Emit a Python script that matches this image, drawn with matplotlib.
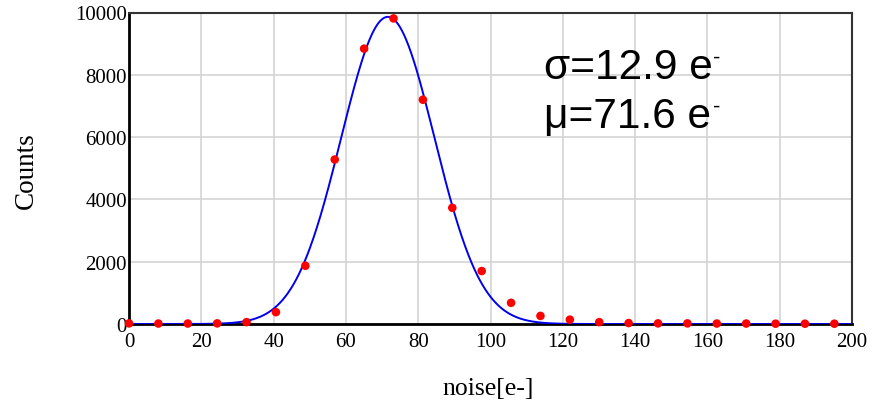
import numpy as np
import matplotlib
matplotlib.use("Agg")
import matplotlib.pyplot as plt

# Data
bin_width = 8.13
n_bins = 25
counts = [20, 15, 15, 20, 60, 380, 1870, 5280, 8840, 9810, 7200, 3730,
          1700, 680, 260, 140, 60, 30, 20, 20, 15, 15, 10, 10, 10]
noise = [i * bin_width for i in range(n_bins)]

# Gaussian fit parameters (as labelled)
fit_sigma = 12.9
fit_mu = 71.6
fit_amp = 9860

x_ticks = [0, 20, 40, 60, 80, 100, 120, 140, 160, 180, 200]
y_ticks = [0, 2000, 4000, 6000, 8000, 10000]

fig = plt.figure(figsize=(8.84, 4.06), dpi=100)
ax = fig.add_axes([129 / 884, (406 - 325) / 406, (852 - 129) / 884, (325 - 13.5) / 406])

xf = np.linspace(0, 200, 801)
yf = fit_amp * np.exp(-(xf - fit_mu) ** 2 / (2 * fit_sigma ** 2))
ax.plot(xf, yf, color="#0000ee", lw=1.4, zorder=3)
ax.scatter(noise, counts, s=38, color="#ff0000", edgecolors="none", zorder=4, clip_on=False)

ax.set_xlim(0, 200)
ax.set_ylim(0, 10000)
ax.set_xticks(x_ticks)
ax.set_yticks(y_ticks)
ax.grid(True, color="#d4d4d4", lw=1.2)
ax.set_axisbelow(True)
ax.tick_params(length=0, labelsize=15)
ax.tick_params(axis="x", pad=6)
ax.tick_params(axis="y", pad=1.5)
for lab in ax.get_xticklabels() + ax.get_yticklabels():
    lab.set_fontfamily("Liberation Serif")

ax.spines["left"].set_linewidth(2.0)
ax.spines["bottom"].set_linewidth(2.0)
ax.spines["top"].set_linewidth(1.5)
ax.spines["right"].set_linewidth(1.5)
ax.spines["top"].set_color("#333333")
ax.spines["right"].set_color("#333333")

fig.text(26 / 884, 1 - 171 / 406, "Counts", rotation=90, ha="center", va="center",
         fontsize=19.5, family="Liberation Serif")
fig.text(488 / 884, 1 - 389 / 406, "noise[e-]", ha="center", va="center",
         fontsize=18.5, family="Liberation Serif")

fam = ["Liberation Sans", "DejaVu Sans"]
fig.text(544 / 884, 1 - 79 / 406, "σ=12.9 e", ha="left", va="baseline", fontsize=30.5, family=fam)
fig.text(544 / 884, 1 - 128 / 406, "μ=71.6 e", ha="left", va="baseline", fontsize=30.5, family=fam)
fig.text(713 / 884, 1 - 64 / 406, "-", ha="left", va="baseline", fontsize=16, family=fam)
fig.text(713 / 884, 1 - 113 / 406, "-", ha="left", va="baseline", fontsize=16, family=fam)

fig.savefig("out.png", dpi=100)
